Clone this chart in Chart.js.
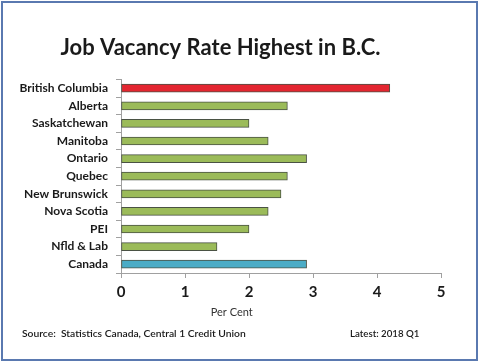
<!DOCTYPE html>
<html>
<head>
<meta charset="utf-8">
<script src="https://cdn.jsdelivr.net/npm/chart.js@4"></script>
<style>
  html, body { margin: 0; padding: 0; background: #fff; }
  #wrap { width: 480px; height: 363px; position: relative; }
</style>
</head>
<body>
<div id="wrap"><canvas id="vacancyChart" width="480" height="363"></canvas></div>
<script>
// Job vacancy rate by province, 2018 Q1 (per cent)
const provinces = ['British Columbia', 'Alberta', 'Saskatchewan', 'Manitoba', 'Ontario',
  'Quebec', 'New Brunswick', 'Nova Scotia', 'PEI', 'Nfld & Lab', 'Canada'];
const vacancyRates = [4.2, 2.6, 2.0, 2.3, 2.9, 2.6, 2.5, 2.3, 2.0, 1.5, 2.9];
const xTicks = [0, 1, 2, 3, 4, 5];

// BC highlighted red, Canada blue, the rest green
const barColors = provinces.map(p => p === 'British Columbia' ? '#e32630' : (p === 'Canada' ? '#4bacc6' : '#9bbb59'));

const fontFamily = 'Lato, "Open Sans", sans-serif';

// frame round the picture, axis caption + footer lines
const decorations = {
  id: 'decorations',
  beforeDraw(chart) {
    const c = chart.ctx;
    c.save();
    c.fillStyle = '#ffffff';
    c.fillRect(0, 0, chart.width, chart.height);
    c.strokeStyle = '#5a79b0';
    c.lineWidth = 2;
    c.strokeRect(2, 2, chart.width - 5, chart.height - 5);
    c.restore();
  },
  afterDraw(chart) {
    const c = chart.ctx;
    const x = chart.scales.x;
    c.save();
    // caption sits a bit left of centre in the original
    c.fillStyle = '#333';
    c.font = '11px ' + fontFamily;
    c.textAlign = 'center';
    c.textBaseline = 'middle';
    c.fillText('Per Cent', x.getPixelForValue(1.73), 312);

    c.fillStyle = '#1a1a1a';
    c.font = '600 10.3px ' + fontFamily;
    c.textAlign = 'left';
    c.fillText('Source:  Statistics Canada, Central 1 Credit Union', 22, 334);
    c.font = '600 9.7px ' + fontFamily;
    c.fillText('Latest: 2018 Q1', 350, 334);
    c.restore();
  }
};

const ctx = document.getElementById('vacancyChart').getContext('2d');
new Chart(ctx, {
  type: 'bar',
  data: {
    labels: provinces,
    datasets: [{
      data: vacancyRates,
      backgroundColor: barColors,
      borderColor: '#4a5244',
      borderWidth: 1,
      borderSkipped: false,
      barThickness: 8
    }]
  },
  options: {
    indexAxis: 'y',
    responsive: false,
    animation: false,
    layout: { padding: { left: 0, right: 39, top: 0, bottom: 45 } },
    plugins: {
      legend: { display: false },
      tooltip: { enabled: false },
      title: {
        display: true,
        text: 'Job Vacancy Rate Highest in B.C.',
        color: '#1a1a1a',
        font: { family: fontFamily, size: 22, weight: 'bold' },
        padding: { top: 35, bottom: 18 }
      }
    },
    scales: {
      x: {
        min: 0,
        max: 5,
        afterBuildTicks(scale) { scale.ticks = xTicks.map(v => ({ value: v })); },
        afterFit(scale) { scale.height = 45; },
        border: { display: true, color: '#a0a0a0', width: 1 },
        grid: { drawOnChartArea: false, drawTicks: true, tickLength: 5, color: '#a0a0a0' },
        ticks: { color: '#1a1a1a', font: { family: fontFamily, size: 15, weight: 'bold' }, padding: 5 }
      },
      y: {
        afterFit(scale) { scale.width = 121; },
        border: { display: true, color: '#a0a0a0', width: 1 },
        grid: { drawOnChartArea: false, drawTicks: true, tickLength: 5, color: '#a0a0a0', offset: true },
        ticks: { color: '#1a1a1a', font: { family: fontFamily, size: 12, weight: 'bold' }, padding: 8 }
      }
    }
  },
  plugins: [decorations]
});
</script>
</body>
</html>
